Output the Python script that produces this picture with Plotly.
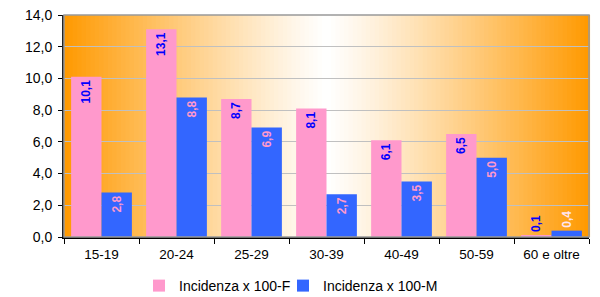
import plotly.graph_objects as go

categories = ["15-19", "20-24", "25-29", "30-39", "40-49", "50-59", "60 e oltre"]
female = [10.1, 13.1, 8.7, 8.1, 6.1, 6.5, 0.1]
male = [2.8, 8.8, 6.9, 2.7, 3.5, 5.0, 0.4]
series_names = ["Incidenza x 100-F", "Incidenza x 100-M"]

PINK = "#FF99CC"
BLUE = "#3366FF"
TXT_BLUE = "#0000FF"
FONT = "Liberation Sans"

def tf(color):
    return dict(color=color, size=12, family=FONT, weight="bold")

fig = go.Figure()
fig.add_trace(go.Bar(
    x=categories, y=female, name=series_names[0], marker=dict(color=PINK, line=dict(width=0)),
    texttemplate="%{y:.1f}", textposition="auto", insidetextanchor="end",
    textangle=-90, textfont=tf(TXT_BLUE), insidetextfont=tf(TXT_BLUE),
    outsidetextfont=tf(TXT_BLUE), cliponaxis=False, legend="legend",
))
fig.add_trace(go.Bar(
    x=categories, y=male, name=series_names[1], marker=dict(color=BLUE, line=dict(width=0)),
    texttemplate="%{y:.1f}", textposition="auto", insidetextanchor="end",
    textangle=-90, textfont=tf(PINK), insidetextfont=tf(PINK),
    outsidetextfont=tf("#FFE6F2"), cliponaxis=False, legend="legend2",
))

# gradient background: orange edges -> white centre
shapes = []
N = 120
o = (255, 153, 0)
for i in range(N):
    t0 = i / N
    t1 = (i + 1) / N
    tm = (t0 + t1) / 2
    d = abs(tm - 0.5) * 2
    f = d ** 1.15
    c = tuple(round(255 * (1 - f) + oc * f) for oc in o)
    shapes.append(dict(type="rect", xref="paper", yref="paper", x0=t0, x1=t1 + 0.002,
                       y0=0, y1=1, fillcolor="rgb(%d,%d,%d)" % c, line_width=0, layer="below"))
shapes.append(dict(type="rect", xref="paper", yref="paper", x0=0, x1=1, y0=0, y1=1,
                   line=dict(color="#999999", width=1.5), layer="above"))

leg = dict(orientation="h", xanchor="left", xref="container", yref="container", y=0.037,
           yanchor="middle", font=dict(size=14), itemwidth=30,
           bgcolor="rgba(0,0,0,0)")

fig.update_layout(
    width=600, height=297,
    margin=dict(l=64, r=11, t=15, b=60, autoexpand=False),
    paper_bgcolor="white", plot_bgcolor="white",
    separators=",.",
    barmode="group", bargap=0.19, bargroupgap=0,
    font=dict(family=FONT, size=13, color="black"),
    shapes=shapes,
    showlegend=True,
    legend=dict(leg, x=139 / 600),
    legend2=dict(leg, x=283 / 600),
)
fig.update_xaxes(type="category", showline=True, linecolor="black", linewidth=1.5,
                 ticks="outside", tickson="boundaries", ticklen=5, tickcolor="black",
                 showgrid=False, tickfont=dict(size=13.5), ticklabelstandoff=4)
fig.update_yaxes(range=[0, 14], dtick=2, tickformat=".1f", showline=True, linecolor="#222222",
                 linewidth=2, ticks="outside", ticklen=4, tickcolor="black",
                 showgrid=True, gridcolor="#C0C0C0", gridwidth=1.2, zeroline=False,
                 tickfont=dict(size=14), ticklabelstandoff=3)

fig.write_html("out.html", config={"displayModeBar": False},
               post_script="document.body.style.margin='0';document.body.style.overflow='hidden';")
